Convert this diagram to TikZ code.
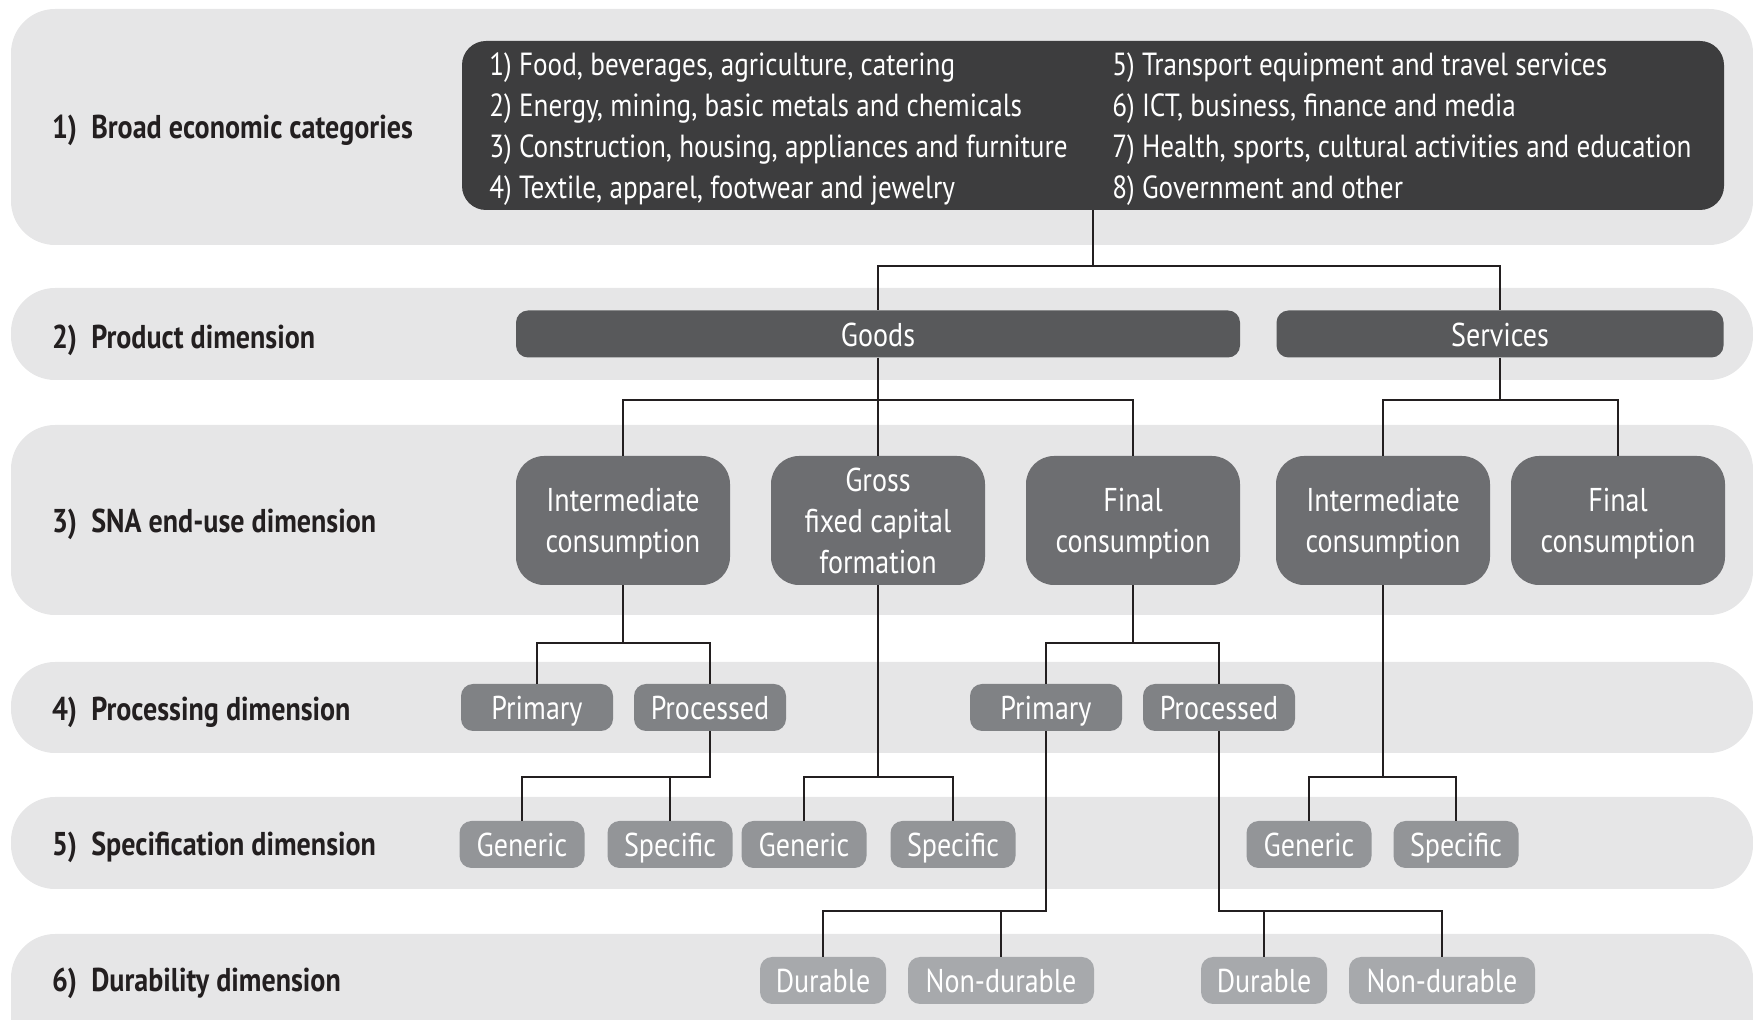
\documentclass[tikz,border=0pt]{standalone}
\usepackage{fontspec}
\setmainfont{PT Sans}[FakeStretch=0.85,BoldFeatures={FakeStretch=0.85}]
\usepackage{tikz}
\usetikzlibrary{calc}
\definecolor{bandgray}{HTML}{E6E6E7}
\definecolor{becgray}{HTML}{3D3D3E}
\definecolor{prodgray}{HTML}{58595B}
\definecolor{snagray}{HTML}{6D6E71}
\definecolor{procgray}{HTML}{808285}
\definecolor{specgray}{HTML}{939598}
\definecolor{durgray}{HTML}{A7A9AC}
\definecolor{inkgray}{HTML}{231F20}
\pgfdeclarelayer{background layer}
\pgfsetlayers{background layer,main}

\tikzset{
  band/.style={fill=bandgray,rounded corners=22pt},
  dimlabel/.style={anchor=west,text=inkgray,font=\fontsize{16.5}{19}\selectfont\bfseries},
  box/.style={rounded corners=6pt,text=white,inner sep=0pt,align=center,
    font=\fontsize{16.5}{20.5}\selectfont,minimum height=23.5pt,text height=12.5pt,text depth=0pt},
  becbox/.style={box,fill=becgray,rounded corners=12pt,minimum width=631pt,minimum height=84.5pt},
  bectext/.style={anchor=west,text=white,inner sep=0pt,align=left,font=\fontsize{16}{20.5}\selectfont},
  prodbox/.style={box,fill=prodgray},
  snabox/.style={box,fill=snagray,rounded corners=14pt,minimum width=107pt,minimum height=64.5pt,
    text height=,text depth=-1pt},
  procbox/.style={box,fill=procgray,minimum width=76pt},
  specbox/.style={box,fill=specgray,minimum width=62.5pt},
  durbox/.style={box,fill=durgray,minimum width=63pt},
  link/.style={draw=inkgray,line width=0.75pt}
}

\begin{document}
\begin{tikzpicture}[x=0.5pt,y=-0.5pt]

  \clip (0,0) rectangle (1753,1020);

  \begin{pgfonlayer}{background layer}
  \foreach \top/\bot in {9/245,288/380,425/615,662/753,797/889,934/1080}
    \fill [band] (11,\top) rectangle (1753,\bot);
  \end{pgfonlayer}

  \foreach \y/\txt [count=\i] in {130/Broad economic categories,340/Product dimension,
      524/SNA end-use dimension,712/Processing dimension,847/Specification dimension,
      983/Durability dimension}
    \node [dimlabel] (dim\i) at (45,\y) {\i)\ \ \txt};

  % broad economic categories
  \node [becbox] (bec) at (1093,125.5) {};
  \node [bectext] (becleft) at (489,129) {1) Food, beverages, agriculture, catering\\
    2) Energy, mining, basic metals and chemicals\\
    3) Construction, housing, appliances and furniture\\
    4) Textile, apparel, footwear and jewelry};
  \node [bectext] (becright) at (1112,129) {5) Transport equipment and travel services\\
    6) ICT, business, finance and media\\
    7) Health, sports, cultural activities and education\\
    8) Government and other};

  % product
  \node [prodbox,minimum width=362pt] (goods) at (878,334) {Goods};
  \node [prodbox,minimum width=223.5pt] (services) at (1500,334) {Services};

  % SNA end-use
  \node [snabox] (ic1) at (623,520.5) {Intermediate\\consumption};
  \node [snabox] (gfcf) at (878,520.5) {Gross\\fixed capital\\formation};
  \node [snabox] (fc1) at (1133,520.5) {Final\\consumption};
  \node [snabox] (ic2) at (1383,520.5) {Intermediate\\consumption};
  \node [snabox] (fc2) at (1618,520.5) {Final\\consumption};

  % processing
  \node [procbox] (prim1) at (537,707.5) {Primary};
  \node [procbox] (proc1) at (710,707.5) {Processed};
  \node [procbox] (prim2) at (1046,707.5) {Primary};
  \node [procbox] (proc2) at (1219,707.5) {Processed};

  % specification
  \node [specbox] (gen1) at (522,844.5) {Generic};
  \node [specbox] (spec1) at (670,844.5) {Specific};
  \node [specbox] (gen2) at (804,844.5) {Generic};
  \node [specbox] (spec2) at (953,844.5) {Specific};
  \node [specbox] (gen3) at (1309,844.5) {Generic};
  \node [specbox] (spec3) at (1456,844.5) {Specific};

  % durability
  \node [durbox] (dur1) at (823,980.5) {Durable};
  \node [durbox,minimum width=93pt] (nondur1) at (1001,980.5) {Non-durable};
  \node [durbox] (dur2) at (1264,980.5) {Durable};
  \node [durbox,minimum width=93pt] (nondur2) at (1442,980.5) {Non-durable};

  % tree links
  \foreach \p/\a/\b/\y in {bec/goods/services/266,goods/ic1/fc1/400,services/ic2/fc2/400,
      ic1/prim1/proc1/643,fc1/prim2/proc2/643,proc1/gen1/spec1/777,gfcf/gen2/spec2/777,
      ic2/gen3/spec3/777,prim2/dur1/nondur1/911,proc2/dur2/nondur2/911}
  {
    \draw [link] (\p.south) |- (\a.north |- 0,\y) -- (\a.north);
    \draw [link] (\p.south |- 0,\y) -| (\b.north);
  }
  \draw [link] (goods.south) -- (gfcf.north);

\end{tikzpicture}
\end{document}
